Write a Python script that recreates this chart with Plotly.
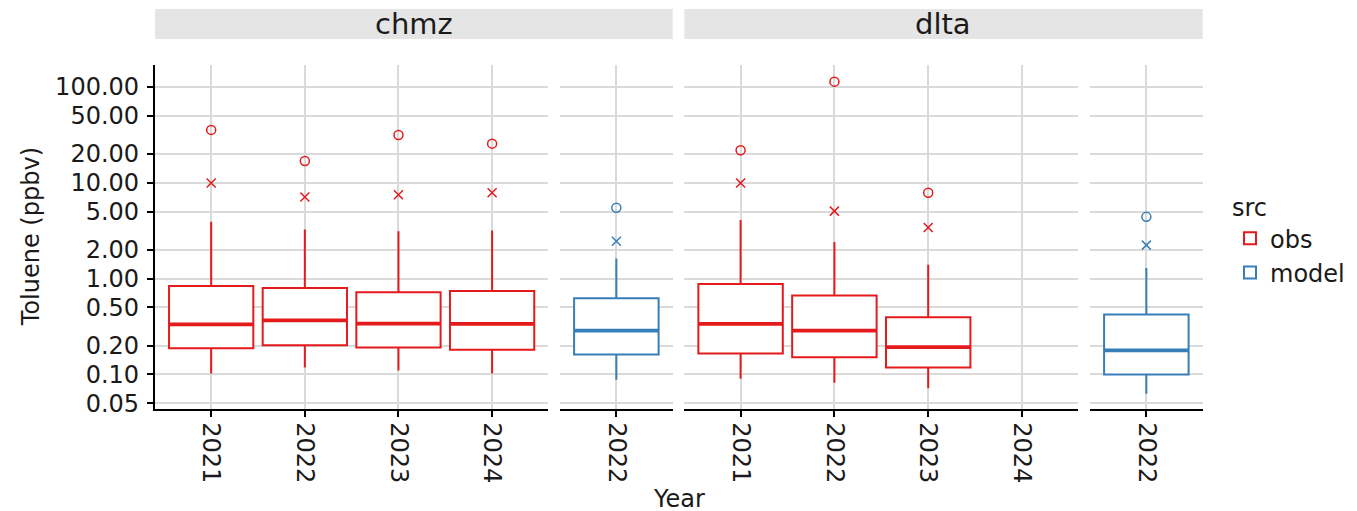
import math
import plotly.graph_objects as go

W, H = 1357, 511

# ---------------- data ----------------
obs_years = ["2021", "2022", "2023", "2024"]
model_years = ["2022"]

# chmz observations
chmz_obs_low = [0.102, 0.118, 0.110, 0.102]
chmz_obs_q1 = [0.188, 0.201, 0.191, 0.181]
chmz_obs_med = [0.333, 0.367, 0.339, 0.336]
chmz_obs_q3 = [0.837, 0.797, 0.719, 0.742]
chmz_obs_up = [3.90, 3.25, 3.12, 3.17]
chmz_obs_mean = [9.9, 7.07, 7.48, 7.84]
chmz_obs_max = [35.5, 16.8, 31.4, 25.5]

# chmz model
chmz_mod_low = [0.088]
chmz_mod_q1 = [0.161]
chmz_mod_med = [0.286]
chmz_mod_q3 = [0.622]
chmz_mod_up = [1.62]
chmz_mod_mean = [2.45]
chmz_mod_max = [5.47]

# dlta observations (no data for 2024)
dlta_obs_yrs = ["2021", "2022", "2023"]
dlta_obs_low = [0.090, 0.0819, 0.0719]
dlta_obs_q1 = [0.165, 0.151, 0.118]
dlta_obs_med = [0.336, 0.286, 0.193]
dlta_obs_q3 = [0.878, 0.664, 0.394]
dlta_obs_up = [4.07, 2.40, 1.39]
dlta_obs_mean = [9.91, 5.05, 3.41]
dlta_obs_max = [21.8, 113.0, 7.84]

# dlta model
dlta_mod_low = [0.0629]
dlta_mod_q1 = [0.100]
dlta_mod_med = [0.178]
dlta_mod_q3 = [0.421]
dlta_mod_up = [1.29]
dlta_mod_mean = [2.23]
dlta_mod_max = [4.40]

y_ticks = [0.05, 0.1, 0.2, 0.5, 1, 2, 5, 10, 20, 50, 100]
facets = ["chmz", "dlta"]

# ---------------- style ----------------
OBS_C = "#E41A1C"
MOD_C = "#377EB8"
GRID_C = "#DADADA"
FONT = "DejaVu Sans"
TXT = "#1A1A1A"
OFF = 8  # page body margin offset

def px_x(p):
    return (p - OFF) / W

def px_y(p):
    return 1 - (p - OFF) / H

panel_px = [(155, 548.3), (560, 672.7), (684.3, 1078.3), (1090, 1202.7)]
panel_top, panel_bot = 65, 409.3
ydom = [px_y(panel_bot), px_y(panel_top)]

fig = go.Figure()

panels = [
    dict(cats=obs_years, yrs=obs_years, low=chmz_obs_low, q1=chmz_obs_q1, med=chmz_obs_med,
         q3=chmz_obs_q3, up=chmz_obs_up, mean=chmz_obs_mean, mx=chmz_obs_max, c=OBS_C, name="obs"),
    dict(cats=model_years, yrs=model_years, low=chmz_mod_low, q1=chmz_mod_q1, med=chmz_mod_med,
         q3=chmz_mod_q3, up=chmz_mod_up, mean=chmz_mod_mean, mx=chmz_mod_max, c=MOD_C, name="model"),
    dict(cats=obs_years, yrs=dlta_obs_yrs, low=dlta_obs_low, q1=dlta_obs_q1, med=dlta_obs_med,
         q3=dlta_obs_q3, up=dlta_obs_up, mean=dlta_obs_mean, mx=dlta_obs_max, c=OBS_C, name="obs"),
    dict(cats=model_years, yrs=model_years, low=dlta_mod_low, q1=dlta_mod_q1, med=dlta_mod_med,
         q3=dlta_mod_q3, up=dlta_mod_up, mean=dlta_mod_mean, mx=dlta_mod_max, c=MOD_C, name="model"),
]

BW = 0.9
shown = set()
for k, p in enumerate(panels):
    xa = "x" if k == 0 else f"x{k+1}"
    ya = "y" if k == 0 else f"y{k+1}"
    xs = [p["cats"].index(y) for y in p["yrs"]]
    show = p["name"] not in shown
    shown.add(p["name"])
    fig.add_trace(go.Box(
        x=xs, q1=p["q1"], median=p["med"], q3=p["q3"],
        lowerfence=p["low"], upperfence=p["up"],
        width=BW, whiskerwidth=0, boxpoints=False,
        line=dict(color=p["c"], width=2.0), fillcolor="white",
        name=p["name"], legendgroup=p["name"], showlegend=show,
        xaxis=xa, yaxis=ya, hoverinfo="skip",
    ))
    mx_, my_ = [], []
    for xi, m in zip(xs, p["med"]):
        mx_ += [xi - BW / 2, xi + BW / 2, None]
        my_ += [m, m, None]
    fig.add_trace(go.Scatter(x=mx_, y=my_, mode="lines",
                             line=dict(color=p["c"], width=3.8),
                             showlegend=False, xaxis=xa, yaxis=ya, hoverinfo="skip"))
    fig.add_trace(go.Scatter(x=xs, y=p["mx"], mode="markers",
                             marker=dict(symbol="circle-open", size=9, color=p["c"],
                                         line=dict(width=1.5, color=p["c"])),
                             showlegend=False, xaxis=xa, yaxis=ya, hoverinfo="skip"))
    fig.add_trace(go.Scatter(x=xs, y=p["mean"], mode="markers",
                             marker=dict(symbol="x-thin-open", size=9, color=p["c"],
                                         line=dict(width=1.5, color=p["c"])),
                             showlegend=False, xaxis=xa, yaxis=ya, hoverinfo="skip"))

yr = [math.log10(0.0433), math.log10(168.6)]
tick_font = dict(family=FONT, size=24, color=TXT)

layout = dict(
    width=W, height=H,
    margin=dict(l=0, r=0, t=0, b=0),
    paper_bgcolor="white", plot_bgcolor="white",
    font=dict(family=FONT, size=24, color=TXT),
    showlegend=True,
    legend=dict(
        title=dict(text="src", font=dict(family=FONT, size=24, color=TXT)),
        font=dict(family=FONT, size=24, color=TXT),
        x=px_x(1350), y=px_y(185), xanchor="right", yanchor="top",
        bgcolor="rgba(0,0,0,0)", tracegroupgap=0,
    ),
)

for k, p in enumerate(panels):
    sx = "" if k == 0 else str(k + 1)
    n = len(p["cats"])
    layout["xaxis" + sx] = dict(
        domain=[px_x(panel_px[k][0]), px_x(panel_px[k][1])],
        anchor="y" + sx, range=[-0.6, n - 1 + 0.6],
        tickvals=list(range(n)), ticktext=p["cats"], tickangle=90,
        tickfont=tick_font, ticks="outside", ticklen=6, tickwidth=1.8, tickcolor="black",
        showline=True, linecolor="black", linewidth=2.2,
        showgrid=True, gridcolor=GRID_C, gridwidth=1.8, zeroline=False,
        automargin=False, fixedrange=True,
    )
    layout["yaxis" + sx] = dict(
        domain=ydom, anchor="x" + sx, type="log", range=yr,
        tickvals=y_ticks, ticktext=[f"{v:.2f}" for v in y_ticks],
        showgrid=True, gridcolor=GRID_C, gridwidth=1.8, zeroline=False,
        automargin=False, fixedrange=True,
        showline=(k == 0), linecolor="black", linewidth=2.2,
        ticks="outside" if k == 0 else "", ticklen=6, tickwidth=1.8, tickcolor="black",
        showticklabels=(k == 0), tickfont=tick_font, ticklabelstandoff=3,
    )

fig.update_layout(**layout)

# facet strips
strip_px = [(155, 672.7), (684.3, 1202.7)]
for (x0, x1), lab in zip(strip_px, facets):
    fig.add_shape(type="rect", xref="paper", yref="paper",
                  x0=px_x(x0), x1=px_x(x1), y0=px_y(39), y1=px_y(9),
                  fillcolor="#E5E5E5", line=dict(width=0), layer="below")
    fig.add_annotation(text=lab, xref="paper", yref="paper",
                       x=px_x((x0 + x1) / 2), y=px_y(24), showarrow=False,
                       xanchor="center", yanchor="middle",
                       font=dict(family=FONT, size=29, color=TXT))

# axis titles
fig.add_annotation(text="Year", xref="paper", yref="paper",
                   x=px_x((155 + 1202.7) / 2), y=px_y(499), showarrow=False,
                   xanchor="center", yanchor="middle",
                   font=dict(family=FONT, size=24, color=TXT))
fig.add_annotation(text="Toluene (ppbv)", xref="paper", yref="paper",
                   x=px_x(31), y=px_y((panel_top + panel_bot) / 2), showarrow=False,
                   textangle=-90, xanchor="center", yanchor="middle",
                   font=dict(family=FONT, size=24, color=TXT))

fig.write_html("out.html")
